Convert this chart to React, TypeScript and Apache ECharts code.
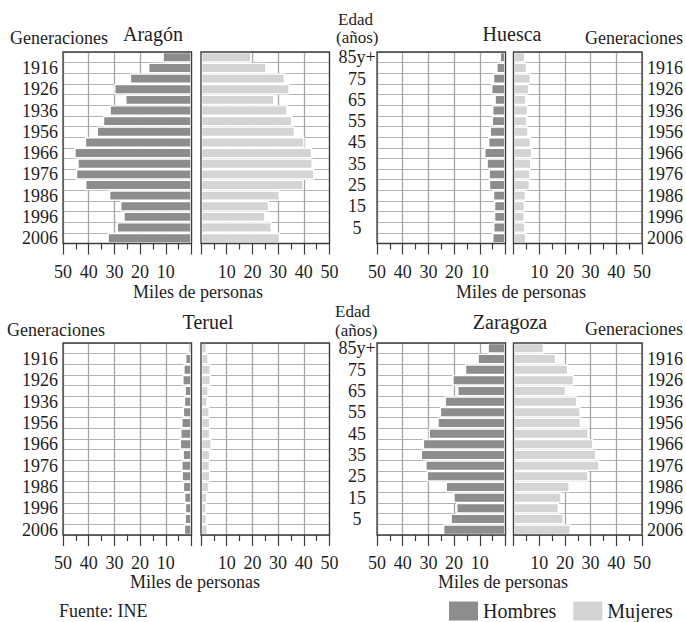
import React, { useEffect, useRef } from 'react';
import * as echarts from 'echarts';

// ---- Data ----
// age groups from top (oldest) to bottom (youngest)
const ageGroups = ['85+', '80-84', '75-79', '70-74', '65-69', '60-64', '55-59', '50-54', '45-49', '40-44', '35-39', '30-34', '25-29', '20-24', '15-19', '10-14', '5-9', '0-4'];
const edadLabels = ['85y+', '', '75', '', '65', '', '55', '', '45', '', '35', '', '25', '', '15', '', '5', ''];
const generacionLabels = ['', '1916', '', '1926', '', '1936', '', '1956', '', '1966', '', '1976', '', '1986', '', '1996', '', '2006'];

// thousands of people, same order as ageGroups
const aragonHombres = [11.3, 16.9, 24.0, 30.1, 25.8, 31.9, 34.5, 36.9, 41.5, 45.6, 44.4, 45.0, 41.4, 32.1, 27.8, 26.5, 29.1, 32.7];
const aragonMujeres = [19.6, 25.5, 32.7, 34.5, 28.6, 33.7, 35.5, 36.6, 40.3, 43.3, 43.5, 44.1, 40.0, 30.7, 26.5, 25.1, 27.6, 30.8];
const huescaHombres = [2.3, 3.6, 4.9, 5.6, 4.3, 5.2, 5.4, 6.2, 6.8, 8.3, 7.4, 6.6, 6.5, 4.9, 4.5, 4.5, 4.8, 5.2];
const huescaMujeres = [4.6, 5.3, 6.8, 6.2, 5.0, 5.7, 5.4, 5.9, 6.8, 7.3, 7.0, 6.6, 6.4, 4.9, 4.5, 4.4, 4.6, 5.0];
const teruelHombres = [1.3, 2.5, 3.2, 3.6, 2.7, 3.0, 3.4, 4.0, 4.4, 4.6, 3.5, 4.0, 3.9, 3.4, 2.9, 2.6, 2.7, 3.0];
const teruelMujeres = [2.3, 3.0, 3.8, 3.9, 3.0, 2.6, 3.4, 3.6, 3.6, 4.2, 3.6, 3.5, 3.6, 3.2, 2.5, 2.2, 2.3, 2.7];
const zaragozaHombres = [7.0, 10.9, 15.8, 20.7, 18.8, 23.7, 25.6, 26.5, 29.9, 32.2, 33.0, 31.2, 30.7, 23.3, 20.3, 19.2, 21.4, 24.3];
const zaragozaMujeres = [11.9, 16.6, 21.3, 23.6, 20.5, 24.8, 26.1, 26.3, 29.3, 31.1, 32.2, 33.4, 29.2, 21.9, 18.7, 17.7, 19.6, 22.3];

const xMin = 0;
const xMax = 50;
const xStep = 10;

// ---- Styles / layout ----
const FONT = 'Liberation Serif';
const TEXT = '#1e1e1e';
const MALE = '#8d8d8f';
const FEMALE = '#d4d4d4';
const FRAME = '#3c3c3c';
const GRIDV = '#a6a6a6';
const GRIDH = '#b4b4b4';
const PW = 128.5;

type Panel = {
  title: string;
  hombres: number[];
  mujeres: number[];
  xL: number;
  xR: number;
  top: number;
  height: number;
  genSide: 'left' | 'right';
  edad: boolean;
  labelShift: number;
};

const panels: Panel[] = [
  { title: 'Aragón', hombres: aragonHombres, mujeres: aragonMujeres, xL: 63, xR: 201, top: 52, height: 191.5, genSide: 'left', edad: false, labelShift: 0 },
  { title: 'Huesca', hombres: huescaHombres, mujeres: huescaMujeres, xL: 377, xR: 513.5, top: 52, height: 191.5, genSide: 'right', edad: true, labelShift: 0 },
  { title: 'Teruel', hombres: teruelHombres, mujeres: teruelMujeres, xL: 63, xR: 201, top: 343, height: 192, genSide: 'left', edad: false, labelShift: 2 },
  { title: 'Zaragoza', hombres: zaragozaHombres, mujeres: zaragozaMujeres, xL: 377, xR: 513.5, top: 343, height: 192, genSide: 'right', edad: true, labelShift: 3 },
];

function txt(text: string, x: number, y: number, size: number, align: 'left' | 'center' | 'right' = 'left') {
  return {
    type: 'text',
    x,
    y,
    silent: true,
    style: {
      text,
      fontFamily: FONT,
      fontSize: size,
      lineHeight: size,
      fill: TEXT,
      align,
      verticalAlign: 'middle',
      textAlign: align,
      textVerticalAlign: 'middle',
    },
  };
}

function buildOption() {
  const grid: any[] = [];
  const xAxis: any[] = [];
  const yAxis: any[] = [];
  const series: any[] = [];

  panels.forEach((p) => {
    ['L', 'R'].forEach((side) => {
      const isLeft = side === 'L';
      const idx = grid.length;
      grid.push({
        left: isLeft ? p.xL : p.xR,
        top: p.top,
        width: PW,
        height: p.height,
        show: true,
        borderColor: FRAME,
        borderWidth: 1.3,
        backgroundColor: 'rgba(0,0,0,0)',
        z: 10,
      });
      xAxis.push({
        gridIndex: idx,
        type: 'value',
        min: xMin,
        max: xMax,
        interval: xStep,
        inverse: isLeft,
        axisLine: { show: false },
        axisTick: { show: true, length: 11, lineStyle: { color: FRAME, width: 1.2 } },
        minorTick: { show: true, splitNumber: 2, length: 6, lineStyle: { color: FRAME, width: 1.2 } },
        splitLine: { show: true, lineStyle: { color: GRIDV, width: 1.3 } },
        minorSplitLine: { show: false },
        axisLabel: {
          formatter: (v: number) => (v === 0 ? '' : String(v)),
          margin: 19,
          fontFamily: FONT,
          fontSize: 18,
          lineHeight: 18,
          color: TEXT,
        },
      });
      let labels: string[] | null = null;
      let position: 'left' | 'right' = 'left';
      let align: string | undefined;
      let margin = 5;
      let ticks = false;
      if (isLeft && p.genSide === 'left') {
        labels = generacionLabels;
        position = 'left';
        ticks = true;
      } else if (!isLeft && p.genSide === 'right') {
        labels = generacionLabels;
        position = 'right';
      } else if (isLeft && p.edad) {
        labels = edadLabels;
        position = 'left';
        align = 'center';
        margin = 20;
      }
      const lab = labels;
      yAxis.push({
        gridIndex: idx,
        type: 'category',
        data: ageGroups,
        inverse: true,
        position,
        axisLine: { show: false },
        axisTick: { show: ticks, length: 4, interval: 0, lineStyle: { color: GRIDH } },
        splitLine: { show: true, interval: 0, lineStyle: { color: GRIDH, width: 1 } },
        axisLabel: {
          show: !!lab,
          interval: 0,
          formatter: (_v: string, i: number) => (lab ? lab[i] : ''),
          margin,
          align,
          padding: [p.labelShift * 2, 0, 0, 0],
          fontFamily: FONT,
          fontSize: 18,
          lineHeight: 17,
          color: TEXT,
        },
      });
      series.push({
        type: 'bar',
        name: isLeft ? 'Hombres' : 'Mujeres',
        xAxisIndex: idx,
        yAxisIndex: idx,
        data: isLeft ? p.hombres : p.mujeres,
        barCategoryGap: '0%',
        silent: true,
        itemStyle: { color: isLeft ? MALE : FEMALE, borderColor: '#ffffff', borderWidth: 1.35 },
      });
    });
  });

  const graphic = [
    txt('Aragón', 153, 34, 20, 'center'),
    txt('Huesca', 512, 34, 20, 'center'),
    txt('Teruel', 208, 322, 20, 'center'),
    txt('Zaragoza', 510, 322, 20, 'center'),
    txt('Generaciones', 10, 38, 18),
    txt('Generaciones', 585, 38, 18),
    txt('Generaciones', 7, 330, 18),
    txt('Generaciones', 585, 329, 18),
    txt('Edad', 338, 19, 17),
    txt('(años)', 336, 37.5, 17),
    txt('Edad', 335, 311.5, 17),
    txt('(años)', 335, 330, 17),
    txt('Miles de personas', 198, 292, 18, 'center'),
    txt('Miles de personas', 521, 292, 18, 'center'),
    txt('Miles de personas', 195, 582, 18, 'center'),
    txt('Miles de personas', 503, 582, 18, 'center'),
    txt('Fuente: INE', 59, 611, 18),
  ];

  return {
    animation: false,
    backgroundColor: '#ffffff',
    textStyle: { fontFamily: FONT },
    grid,
    xAxis,
    yAxis,
    series,
    legend: {
      data: ['Hombres', 'Mujeres'],
      left: 449,
      top: 601,
      padding: 0,
      itemWidth: 29,
      itemHeight: 19,
      itemGap: 17,
      icon: 'rect',
      selectedMode: false,
      itemStyle: { borderWidth: 0 },
      textStyle: { fontFamily: FONT, fontSize: 20, lineHeight: 19, color: TEXT },
    },
    graphic,
  };
}

export default function App() {
  const ref = useRef<HTMLDivElement>(null);
  useEffect(() => {
    if (!ref.current) return;
    const chart = echarts.init(ref.current, null, { renderer: 'svg' });
    chart.setOption(buildOption() as any);
    return () => chart.dispose();
  }, []);
  return <div ref={ref} style={{ position: 'absolute', left: 0, top: 0, width: 686, height: 622 }} />;
}
